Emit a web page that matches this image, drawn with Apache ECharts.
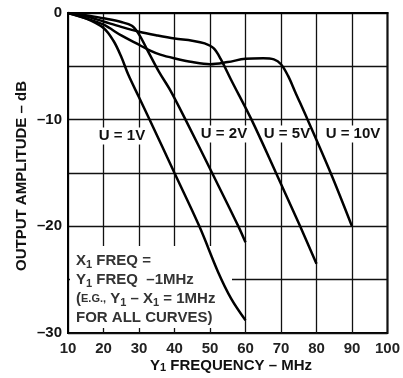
<!DOCTYPE html>
<html>
<head>
<meta charset="utf-8">
<script src="https://cdn.jsdelivr.net/npm/echarts@6/dist/echarts.min.js"></script>
<style>
  html, body { margin: 0; padding: 0; background: #fff; }
  #chart { width: 403px; height: 378px; }
</style>
</head>
<body>
<div id="chart"></div>
<script>
// frequency (MHz) vs output amplitude (dB)
const curve1V = [[10, 0], [15, -0.5], [20, -1.4], [22.8, -2.6], [25, -4.1], [27, -5.8], [30, -7.9], [33, -10], [40, -15], [47, -20], [52.3, -24.3], [56, -26.8], [60, -28.8]]
const curve2V = [[10, 0], [15, -0.2], [20, -0.5], [25, -0.85], [28, -1.2], [30, -2.0], [32.4, -3.5], [35.6, -5.5], [38.9, -7.3], [43.1, -10], [50.6, -15], [58, -20], [60, -21.5]]
const curve5V = [[10, 0], [15, -0.3], [20, -0.8], [25, -1.3], [30, -1.75], [35, -2.1], [40, -2.4], [45, -2.6], [48.5, -2.85], [51, -3.3], [53, -4.3], [56, -6.3], [61.7, -10], [68.6, -15], [75.4, -20], [80, -23.5]]
const curve10V = [[10, 0], [15, -0.5], [20, -1.1], [25, -2.1], [29, -2.8], [33, -3.5], [36, -3.9], [40, -4.25], [45, -4.6], [50, -4.8], [55, -4.6], [60, -4.3], [65, -4.25], [68, -4.35], [70, -4.8], [72, -5.9], [74, -7.4], [77.5, -10], [84, -15], [90, -20]]

const curveNames = ['U = 1V', 'U = 2V', 'U = 5V', 'U = 10V']
const yTickLabels = { 0: '0', '-10': '–10', '-20': '–20', '-30': '–30' }

const FONT = '"Liberation Sans", Arial, Helvetica, sans-serif'

const chart = echarts.init(document.getElementById('chart'))

function curveSeries (name, data) {
  return {
    name: name,
    type: 'line',
    data: data,
    smooth: 0.35,
    showSymbol: false,
    z: 3,
    lineStyle: { color: '#000', width: 2.5 }
  }
}

function label (text, x, y) {
  return {
    type: 'text',
    x: x,
    y: y,
    z: 1,
    style: {
      text: text,
      font: 'bold 15px ' + FONT,
      fill: '#111',
      align: 'center',
      verticalAlign: 'middle',
      backgroundColor: '#fff',
      padding: [1, 2]
    }
  }
}

const option = {
  animation: false,
  backgroundColor: '#fff',
  grid: {
    left: 68,
    right: 12,
    top: 13,
    bottom: 45,
    show: true,
    borderColor: '#000',
    borderWidth: 2
  },
  xAxis: {
    type: 'value',
    min: 10,
    max: 100,
    interval: 10,
    axisLine: { lineStyle: { color: '#000', width: 2 } },
    axisTick: { show: false },
    axisLabel: {
      color: '#222',
      fontFamily: FONT,
      fontWeight: 'bold',
      fontSize: 15,
      margin: 8
    },
    splitLine: { lineStyle: { color: '#111', width: 1.3 } }
  },
  yAxis: {
    type: 'value',
    min: -30,
    max: 0,
    interval: 5,
    axisLine: { lineStyle: { color: '#000', width: 2 } },
    axisTick: { show: false },
    axisLabel: {
      color: '#111',
      fontFamily: FONT,
      fontWeight: 'bold',
      fontSize: 15,
      margin: 6,
      formatter: v => yTickLabels[v] || ''
    },
    splitLine: { lineStyle: { color: '#111', width: 1.3 } }
  },
  graphic: [
    // white box behind the note
    { type: 'rect', z: 1, shape: { x: 70, y: 246, width: 162, height: 82 }, style: { fill: '#fff' } },
    {
      type: 'text',
      z: 1,
      x: 76,
      y: 251,
      style: {
        text: 'X{sub|1} FREQ =\nY{sub|1} FREQ  –1MHz\n({sm|E.G.,} Y{sub|1} – X{sub|1} = 1MHz\nFOR ALL CURVES)',
        font: 'bold 15px ' + FONT,
        fill: '#333',
        lineHeight: 19,
        rich: {
          sub: { font: 'bold 11px ' + FONT, fill: '#333', verticalAlign: 'bottom', lineHeight: 12 },
          sm: { font: 'bold 11px ' + FONT, fill: '#333' }
        }
      }
    },
    label(curveNames[0], 122, 136),
    label(curveNames[1], 224, 134),
    label(curveNames[2], 287, 134),
    label(curveNames[3], 353, 134),
    {
      type: 'text',
      x: 22,
      y: 176,
      rotation: Math.PI / 2,
      style: {
        text: 'OUTPUT AMPLITUDE – dB',
        font: 'bold 15px ' + FONT,
        fill: '#111',
        align: 'center',
        verticalAlign: 'middle'
      }
    },
    {
      type: 'text',
      x: 231,
      y: 366,
      style: {
        text: 'Y{sub|1} FREQUENCY – MHz',
        font: 'bold 15px ' + FONT,
        fill: '#111',
        align: 'center',
        verticalAlign: 'middle',
        rich: {
          sub: { font: 'bold 11px ' + FONT, fill: '#111', verticalAlign: 'bottom', lineHeight: 12 }
        }
      }
    }
  ],
  series: [
    curveSeries(curveNames[0], curve1V),
    curveSeries(curveNames[1], curve2V),
    curveSeries(curveNames[2], curve5V),
    curveSeries(curveNames[3], curve10V)
  ]
}

chart.setOption(option)
</script>
</body>
</html>
